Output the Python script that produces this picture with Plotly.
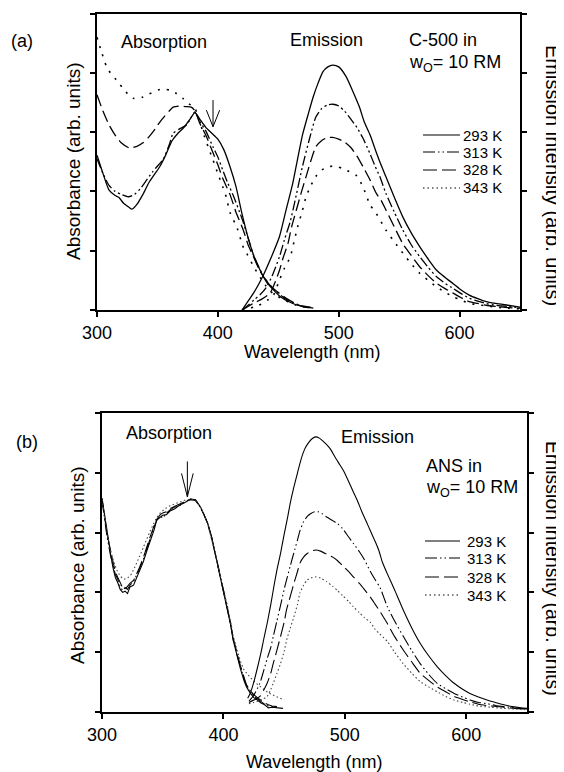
import plotly.graph_objects as go

W, H = 564, 772
OFF = 8  # page body margin of the viewer
FONT = "Arial, 'Liberation Sans', Helvetica, sans-serif"

TEMPS = ["293 K", "313 K", "328 K", "343 K"]
X_TICKS = [300, 400, 500, 600]
X_RANGE = [300, 650]
Y_RANGE = [0, 5]

# ---------------- Panel (a): C-500 ----------------
A_ABS_WL_293 = [300, 305, 310, 315, 318, 322, 326, 329, 333, 338, 343, 348, 352, 357, 362, 367, 372, 377, 381, 385, 390, 395, 400, 405, 410, 415, 420, 425, 430, 435, 440, 446, 452, 462, 470, 475, 479]
A_ABS_293 = [2.61, 2.30, 2.02, 1.93, 1.90, 1.80, 1.74, 1.70, 1.78, 1.95, 2.15, 2.30, 2.42, 2.62, 2.85, 2.98, 3.08, 3.22, 3.33, 3.22, 3.08, 2.98, 2.88, 2.70, 2.42, 2.08, 1.62, 1.22, 0.90, 0.67, 0.48, 0.34, 0.22, 0.11, 0.06, 0.05, 0.03]
A_ABS_WL_313 = [300, 305, 310, 315, 320, 326, 331, 336, 341, 346, 351, 355, 360, 363, 368, 374, 378, 381, 385, 390, 396, 400, 404, 408, 413, 418, 421, 426, 430, 437, 443, 449, 455, 462, 470, 478]
A_ABS_313 = [2.55, 2.30, 2.10, 2.00, 1.95, 1.91, 1.95, 2.05, 2.19, 2.33, 2.45, 2.55, 2.80, 2.98, 3.05, 3.12, 3.25, 3.34, 3.18, 3.02, 2.75, 2.58, 2.36, 2.15, 1.92, 1.65, 1.48, 1.15, 0.90, 0.60, 0.42, 0.30, 0.20, 0.12, 0.07, 0.04]
A_ABS_WL_328 = [300, 305, 310, 315, 320, 327, 333, 338, 343, 348, 352, 356, 360, 363, 368, 373, 378, 381, 385, 390, 396, 400, 404, 410, 415, 421, 425, 429, 435, 440, 446, 451, 458, 465, 472, 478]
A_ABS_328 = [3.63, 3.35, 3.12, 2.95, 2.82, 2.73, 2.76, 2.82, 2.92, 3.05, 3.17, 3.27, 3.36, 3.42, 3.44, 3.43, 3.42, 3.36, 3.15, 2.95, 2.65, 2.45, 2.22, 1.95, 1.65, 1.35, 1.10, 0.92, 0.65, 0.50, 0.36, 0.28, 0.18, 0.10, 0.05, 0.03]
A_ABS_WL_343 = [300, 303, 308, 312, 316, 321, 326, 330, 334, 338, 343, 348, 352, 356, 360, 365, 371, 376, 381, 385, 388, 392, 396, 400, 404, 407, 410, 416, 421, 424, 430, 435, 440, 445, 452, 459, 465, 472]
A_ABS_343 = [4.60, 4.40, 4.10, 3.97, 3.88, 3.75, 3.63, 3.57, 3.57, 3.59, 3.64, 3.69, 3.72, 3.72, 3.71, 3.66, 3.57, 3.48, 3.40, 3.18, 2.98, 2.75, 2.53, 2.30, 2.08, 1.90, 1.65, 1.38, 1.06, 0.95, 0.72, 0.55, 0.40, 0.29, 0.20, 0.13, 0.08, 0.05]

A_EM_WL_293 = [420, 425, 430, 437, 444, 451, 456, 462, 466, 470, 475, 479, 483, 487, 491, 495, 500, 506, 511, 517, 521, 526, 530, 534, 539, 546, 553, 560, 567, 574, 581, 588, 595, 601, 608, 615, 622, 630, 640, 650]
A_EM_293 = [0.00, 0.15, 0.30, 0.56, 0.88, 1.24, 1.65, 2.14, 2.55, 2.95, 3.32, 3.60, 3.83, 4.02, 4.10, 4.13, 4.10, 3.94, 3.72, 3.43, 3.18, 2.95, 2.72, 2.50, 2.25, 1.90, 1.57, 1.30, 1.07, 0.86, 0.67, 0.55, 0.44, 0.34, 0.25, 0.19, 0.14, 0.11, 0.08, 0.05]
A_EM_WL_313 = [420, 425, 430, 435, 440, 445, 451, 455, 460, 465, 470, 476, 481, 486, 491, 495, 500, 505, 510, 515, 520, 526, 530, 534, 539, 546, 553, 560, 567, 574, 581, 588, 595, 601, 608, 615, 622, 630, 640, 650]
A_EM_313 = [0.00, 0.08, 0.17, 0.26, 0.38, 0.58, 0.90, 1.18, 1.50, 1.95, 2.42, 2.90, 3.25, 3.40, 3.46, 3.47, 3.44, 3.35, 3.22, 3.08, 2.90, 2.63, 2.43, 2.25, 1.97, 1.65, 1.35, 1.10, 0.90, 0.72, 0.56, 0.45, 0.36, 0.28, 0.20, 0.15, 0.11, 0.08, 0.06, 0.04]
A_EM_WL_328 = [420, 425, 430, 436, 443, 447, 451, 454, 458, 461, 465, 469, 473, 477, 481, 486, 491, 495, 500, 505, 510, 515, 520, 526, 531, 535, 539, 546, 553, 560, 567, 574, 581, 588, 595, 601, 608, 615, 622, 630, 640, 650]
A_EM_328 = [0.00, 0.06, 0.12, 0.18, 0.28, 0.45, 0.67, 0.88, 1.12, 1.40, 1.69, 1.98, 2.25, 2.52, 2.75, 2.86, 2.91, 2.91, 2.88, 2.83, 2.74, 2.60, 2.42, 2.19, 1.97, 1.85, 1.69, 1.40, 1.12, 0.92, 0.73, 0.58, 0.45, 0.36, 0.28, 0.21, 0.14, 0.11, 0.08, 0.06, 0.04, 0.03]
A_EM_WL_343 = [420, 430, 438, 442, 446, 451, 455, 460, 463, 466, 470, 473, 477, 481, 486, 492, 498, 504, 510, 515, 520, 526, 531, 539, 546, 553, 560, 567, 574, 581, 588, 595, 601, 608, 615, 622, 630, 640, 650]
A_EM_343 = [0.00, 0.05, 0.12, 0.18, 0.25, 0.51, 0.70, 0.90, 1.15, 1.40, 1.68, 1.91, 2.10, 2.25, 2.36, 2.42, 2.42, 2.38, 2.32, 2.26, 2.08, 1.77, 1.63, 1.35, 1.15, 0.96, 0.78, 0.62, 0.50, 0.39, 0.30, 0.22, 0.17, 0.11, 0.09, 0.07, 0.05, 0.03, 0.02]

# ---------------- Panel (b): ANS ----------------
B_ABS_WL_293 = [300, 302, 304, 307, 309, 311, 313, 315, 317, 319, 321, 323, 326, 329, 331, 334, 337, 340, 343, 345, 348, 350, 353, 356, 360, 364, 368, 373, 377, 381, 384, 387, 390, 392, 395, 397, 400, 403, 406, 408, 411, 414, 417, 419, 422, 425, 428, 431, 434, 437, 440, 444, 449]
B_ABS_293 = [3.58, 3.30, 2.99, 2.65, 2.42, 2.25, 2.16, 2.05, 2.00, 2.02, 1.98, 2.09, 2.12, 2.26, 2.35, 2.51, 2.70, 2.88, 3.05, 3.21, 3.25, 3.29, 3.30, 3.36, 3.40, 3.46, 3.50, 3.56, 3.55, 3.43, 3.30, 3.16, 2.95, 2.76, 2.50, 2.32, 2.05, 1.76, 1.45, 1.20, 0.95, 0.72, 0.52, 0.42, 0.32, 0.24, 0.20, 0.15, 0.12, 0.07, 0.08, 0.07, 0.06]
B_ABS_WL_313 = [300, 302, 304, 307, 309, 311, 313, 315, 317, 319, 321, 323, 326, 329, 331, 334, 337, 340, 343, 345, 348, 350, 353, 356, 360, 364, 368, 373, 377, 381, 384, 387, 390, 392, 395, 397, 400, 403, 406, 408, 411, 414, 417, 419, 422, 425, 428, 431, 434, 437, 440, 444]
B_ABS_313 = [3.55, 3.25, 2.95, 2.62, 2.45, 2.30, 2.22, 2.10, 2.03, 2.08, 2.05, 2.12, 2.18, 2.30, 2.40, 2.55, 2.75, 2.92, 3.10, 3.20, 3.28, 3.24, 3.32, 3.38, 3.43, 3.45, 3.52, 3.55, 3.54, 3.42, 3.30, 3.15, 2.95, 2.77, 2.51, 2.33, 2.06, 1.77, 1.46, 1.22, 0.97, 0.74, 0.55, 0.45, 0.35, 0.27, 0.22, 0.17, 0.13, 0.10, 0.09, 0.08]
B_ABS_WL_328 = [300, 302, 304, 307, 309, 311, 313, 315, 317, 319, 321, 323, 326, 329, 331, 334, 337, 340, 343, 345, 348, 350, 353, 356, 360, 364, 368, 373, 377, 381, 384, 387, 390, 392, 395, 397, 400, 403, 406, 408, 411, 414, 417, 419, 422, 425, 428, 431, 434, 437, 440, 444]
B_ABS_328 = [3.56, 3.28, 3.00, 2.70, 2.50, 2.34, 2.25, 2.15, 2.08, 2.05, 2.10, 2.15, 2.20, 2.32, 2.42, 2.58, 2.78, 2.95, 3.12, 3.22, 3.30, 3.33, 3.35, 3.40, 3.44, 3.48, 3.52, 3.56, 3.54, 3.43, 3.30, 3.15, 2.94, 2.76, 2.50, 2.33, 2.06, 1.78, 1.47, 1.24, 1.00, 0.77, 0.58, 0.45, 0.36, 0.29, 0.24, 0.19, 0.15, 0.12, 0.10, 0.09]
B_ABS_WL_343 = [300, 303, 306, 309, 312, 315, 318, 321, 324, 327, 330, 333, 336, 339, 342, 345, 348, 352, 356, 360, 364, 368, 373, 377, 381, 384, 387, 390, 392, 395, 397, 400, 403, 406, 408, 411, 414, 417, 420, 423, 427, 431, 435, 440, 445, 450]
B_ABS_343 = [3.55, 3.15, 2.80, 2.55, 2.38, 2.27, 2.22, 2.24, 2.30, 2.42, 2.55, 2.70, 2.85, 3.00, 3.13, 3.25, 3.33, 3.40, 3.45, 3.48, 3.51, 3.54, 3.56, 3.54, 3.43, 3.30, 3.14, 2.93, 2.75, 2.50, 2.33, 2.08, 1.80, 1.50, 1.28, 1.05, 0.85, 0.70, 0.62, 0.56, 0.48, 0.41, 0.35, 0.29, 0.24, 0.20]

B_EM_WL_293 = [420, 422, 425, 428, 431, 433, 436, 439, 442, 444, 447, 450, 453, 455, 458, 461, 464, 467, 470, 473, 476, 479, 482, 485, 488, 492, 496, 499, 503, 507, 510, 514, 518, 521, 525, 528, 531, 535, 541, 548, 555, 562, 569, 576, 583, 590, 597, 603, 610, 617, 624, 631, 638, 645, 650]
B_EM_293 = [0.23, 0.31, 0.50, 0.74, 1.00, 1.20, 1.48, 1.80, 2.15, 2.37, 2.65, 2.97, 3.27, 3.49, 3.76, 4.00, 4.23, 4.40, 4.50, 4.57, 4.60, 4.58, 4.53, 4.47, 4.40, 4.26, 4.13, 4.03, 3.86, 3.68, 3.55, 3.35, 3.17, 3.03, 2.85, 2.70, 2.50, 2.31, 2.04, 1.71, 1.41, 1.15, 0.94, 0.76, 0.61, 0.48, 0.38, 0.31, 0.25, 0.20, 0.16, 0.12, 0.09, 0.07, 0.06]
B_EM_WL_313 = [421, 425, 430, 433, 436, 439, 441, 444, 447, 450, 452, 455, 458, 461, 463, 466, 469, 472, 475, 478, 481, 485, 490, 494, 498, 503, 507, 512, 516, 521, 525, 529, 535, 541, 548, 555, 562, 569, 576, 583, 590, 597, 603, 610, 617, 624, 631, 640, 650]
B_EM_313 = [0.18, 0.28, 0.48, 0.68, 0.89, 1.08, 1.26, 1.52, 1.78, 2.05, 2.21, 2.44, 2.66, 2.88, 3.03, 3.18, 3.27, 3.32, 3.35, 3.35, 3.32, 3.26, 3.20, 3.15, 3.07, 2.93, 2.82, 2.68, 2.55, 2.35, 2.21, 2.08, 1.76, 1.52, 1.27, 1.03, 0.81, 0.63, 0.48, 0.39, 0.31, 0.25, 0.20, 0.16, 0.14, 0.11, 0.09, 0.07, 0.05]
B_EM_WL_328 = [421, 425, 430, 433, 436, 439, 441, 444, 447, 450, 452, 455, 458, 461, 463, 466, 469, 472, 476, 480, 485, 490, 494, 498, 503, 507, 512, 516, 521, 525, 529, 535, 541, 548, 555, 562, 569, 576, 583, 590, 597, 603, 610, 620, 631, 640, 650]
B_EM_328 = [0.16, 0.20, 0.26, 0.36, 0.48, 0.65, 0.81, 1.03, 1.26, 1.50, 1.71, 1.93, 2.15, 2.35, 2.49, 2.59, 2.65, 2.69, 2.71, 2.69, 2.64, 2.59, 2.53, 2.45, 2.35, 2.26, 2.15, 2.05, 1.92, 1.80, 1.68, 1.48, 1.26, 1.04, 0.84, 0.65, 0.53, 0.42, 0.34, 0.26, 0.21, 0.17, 0.13, 0.10, 0.08, 0.06, 0.05]
B_EM_WL_343 = [421, 425, 430, 433, 436, 439, 441, 444, 447, 450, 452, 455, 458, 461, 463, 466, 469, 472, 476, 480, 485, 490, 494, 498, 503, 507, 512, 516, 521, 525, 529, 535, 541, 548, 555, 562, 569, 576, 583, 590, 597, 603, 610, 620, 631, 640, 650]
B_EM_343 = [0.14, 0.16, 0.19, 0.22, 0.26, 0.38, 0.48, 0.64, 0.81, 1.01, 1.20, 1.40, 1.59, 1.80, 1.99, 2.12, 2.21, 2.24, 2.26, 2.24, 2.18, 2.10, 2.03, 1.95, 1.85, 1.76, 1.66, 1.58, 1.50, 1.38, 1.30, 1.18, 1.00, 0.81, 0.65, 0.51, 0.42, 0.34, 0.26, 0.20, 0.16, 0.13, 0.10, 0.08, 0.06, 0.05, 0.04]

# arrow annotations (nm, top, tip, arm-top, half-width in nm)
ARROW_A = (396, 3.54, 3.09, 3.37, 5.5)
ARROW_B = (370.3, 4.19, 3.60, 3.99, 4.8)

DASH_A = ["solid", "10px,3px,2px,3px,2px,3px", "12px,5px", "2px,7px"]
DASH_B = ["solid", "12px,3px,1.5px,3px,1.5px,3px", "14px,5px", "1.5px,2.5px"]
LEGEND_DASH = ["solid", "12px,3px,1.5px,3px,1.5px,3px", "14px,5px", "1.5px,3px"]


def pxx(x):
    return (x - OFF) / W


def pxy(y):
    return 1 - (y - OFF) / H


fig = go.Figure()

panel_a = [
    (A_ABS_WL_293, A_ABS_293, A_EM_WL_293, A_EM_293),
    (A_ABS_WL_313, A_ABS_313, A_EM_WL_313, A_EM_313),
    (A_ABS_WL_328, A_ABS_328, A_EM_WL_328, A_EM_328),
    (A_ABS_WL_343, A_ABS_343, A_EM_WL_343, A_EM_343),
]
panel_b = [
    (B_ABS_WL_293, B_ABS_293, B_EM_WL_293, B_EM_293),
    (B_ABS_WL_313, B_ABS_313, B_EM_WL_313, B_EM_313),
    (B_ABS_WL_328, B_ABS_328, B_EM_WL_328, B_EM_328),
    (B_ABS_WL_343, B_ABS_343, B_EM_WL_343, B_EM_343),
]

for i, (awl, av, ewl, ev) in enumerate(panel_a):
    lw = 1.3 if i < 3 else 1.6
    fig.add_trace(go.Scatter(x=awl, y=av, mode="lines", name=TEMPS[i], showlegend=False,
                             line=dict(color="black", width=lw, dash=DASH_A[i], shape="spline", smoothing=0.6),
                             xaxis="x", yaxis="y"))
    fig.add_trace(go.Scatter(x=ewl, y=ev, mode="lines", name=TEMPS[i], showlegend=False,
                             line=dict(color="black", width=lw, dash=DASH_A[i], shape="spline", smoothing=0.6),
                             xaxis="x", yaxis="y2"))

for i, (awl, av, ewl, ev) in enumerate(panel_b):
    col = "black" if i < 3 else "#444444"
    fig.add_trace(go.Scatter(x=awl, y=av, mode="lines", name=TEMPS[i], showlegend=False,
                             line=dict(color=col, width=1.1, dash=DASH_B[i]),
                             xaxis="x2", yaxis="y3"))
    fig.add_trace(go.Scatter(x=ewl, y=ev, mode="lines", name=TEMPS[i], showlegend=False,
                             line=dict(color=col, width=1.1, dash=DASH_B[i], shape="spline", smoothing=0.6),
                             xaxis="x2", yaxis="y4"))

axis_common = dict(showline=True, linecolor="black", linewidth=2, ticks="outside",
                   ticklen=5, tickwidth=2, tickcolor="black", showgrid=False, zeroline=False,
                   automargin=False,
                   tickfont=dict(family=FONT, size=18, color="black"))

xa = dict(axis_common, range=X_RANGE, tickvals=X_TICKS, mirror=True)
ya = dict(axis_common, range=Y_RANGE, tickvals=[0, 1, 2, 3, 4, 5], showticklabels=False)

fig.update_layout(
    width=W, height=H,
    margin=dict(l=0, r=0, t=0, b=0, autoexpand=False),
    paper_bgcolor="white", plot_bgcolor="white",
    showlegend=False,
    font=dict(family=FONT, size=18, color="black"),
    xaxis=dict(xa, domain=[pxx(97), pxx(520)], anchor="y"),
    yaxis=dict(ya, domain=[pxy(310), pxy(13.5)], anchor="x"),
    yaxis2=dict(ya, overlaying="y", side="right", anchor="x"),
    xaxis2=dict(xa, domain=[pxx(102), pxx(527)], anchor="y3"),
    yaxis3=dict(ya, domain=[pxy(712), pxy(413)], anchor="x2"),
    yaxis4=dict(ya, overlaying="y3", side="right", anchor="x2"),
)

shapes = []
for (ax, ay), arr in ((("x", "y"), ARROW_A), (("x2", "y3"), ARROW_B)):
    xc, ytop, ytip, yarm, hw = arr
    path = f"M {xc},{ytop} L {xc},{ytip} M {xc - hw},{yarm} L {xc},{ytip} L {xc + hw},{yarm}"
    shapes.append(dict(type="path", xref=ax, yref=ay, path=path, line=dict(color="black", width=1)))

# legends drawn in paper space
LEG_A_ROWS = [135, 152, 170, 188]
LEG_B_ROWS = [541, 558, 577, 595]
annotations = []
for rows, (lx0, lx1, tx) in ((LEG_A_ROWS, (423, 460, 461)), (LEG_B_ROWS, (425, 460, 465))):
    for i, ry in enumerate(rows):
        shapes.append(dict(type="line", xref="paper", yref="paper",
                           x0=pxx(lx0), x1=pxx(lx1), y0=pxy(ry), y1=pxy(ry),
                           line=dict(color="black", width=1.2, dash=LEGEND_DASH[i])))
        annotations.append(dict(text=TEMPS[i], x=pxx(tx), y=pxy(ry), xref="paper", yref="paper",
                                xanchor="left", yanchor="middle", showarrow=False,
                                font=dict(family=FONT, size=15, color="black")))


def label(text, x, y, size=18, angle=0, xanchor="left"):
    annotations.append(dict(text=text, x=pxx(x), y=pxy(y), xref="paper", yref="paper",
                            xanchor=xanchor, yanchor="middle", showarrow=False, textangle=angle,
                            font=dict(family=FONT, size=size, color="black")))


label("(a)", 9, 41)
label("Absorption", 119, 42)
label("Emission", 288, 40)
label("C-500 in", 407, 40)
label("w<sub>O</sub>= 10 RM", 407, 63)
label("Absorbance (arb. units)", 73, 161, size=19, angle=-90, xanchor="center")
label("Emission intensity (arb. units)", 553, 175, size=20, angle=90, xanchor="center")
label("Wavelength (nm)", 312, 352, xanchor="center")

label("(b)", 14, 442)
label("Absorption", 124, 433)
label("Emission", 339, 437)
label("ANS in", 424, 466)
label("w<sub>O</sub>= 10 RM", 424, 488)
label("Absorbance (arb. units)", 77, 565, size=19, angle=-90, xanchor="center")
label("Emission intensity (arb. units)", 553, 568, size=19.5, angle=90, xanchor="center")
label("Wavelength (nm)", 314, 762, xanchor="center")

fig.update_layout(shapes=shapes, annotations=annotations)
fig.write_html("out.html")
